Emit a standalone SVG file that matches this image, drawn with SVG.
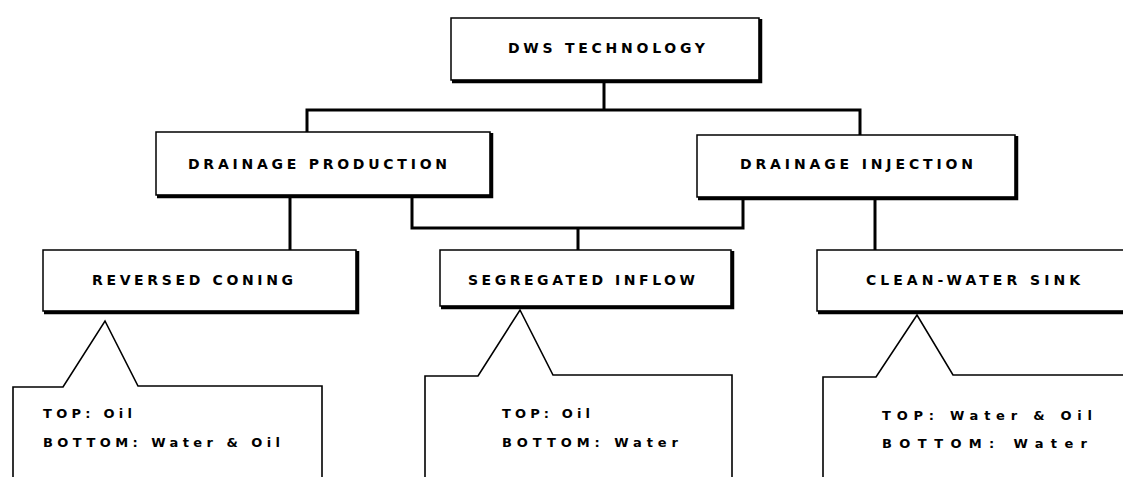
<svg xmlns="http://www.w3.org/2000/svg" width="1123" height="477" viewBox="0 0 1123 477">
<style>
.box{fill:#fff;stroke:#000;stroke-width:1.5}
.shadow{fill:none;stroke:#000;stroke-width:3.5;stroke-linejoin:miter}
.lbl{font-family:"DejaVu Sans","Liberation Sans",sans-serif;font-weight:bold;font-size:14px;fill:#000}
.sm{font-family:"DejaVu Sans","Liberation Sans",sans-serif;font-weight:bold;font-size:13px;fill:#000}
.conn{fill:none;stroke:#000;stroke-width:3;stroke-linejoin:miter;stroke-linecap:square}
.call{fill:#fff;stroke:#000;stroke-width:1.6;stroke-linejoin:miter}
</style>
<rect width="1123" height="477" fill="#fff"/>
<g id="connectors">
<path class="conn" d="M604,83 V110 M307,133 V110 H860 V135"/>
<path class="conn" d="M290,198 V250"/>
<path class="conn" d="M412,198 V228 H743 V200 M578,228 V250"/>
<path class="conn" d="M875,200 V250"/>
</g>
<g id="dws">
<rect class="box" x="451" y="18" width="308" height="62"/>
<path class="shadow" d="M760.5,19 V81.5 H452"/>
<text class="lbl" x="508" y="53" textLength="197" lengthAdjust="spacing">DWS TECHNOLOGY</text>
</g>
<g id="drainage-production">
<rect class="box" x="156" y="132" width="334" height="63"/>
<path class="shadow" d="M491.5,133 V196.5 H157"/>
<text class="lbl" x="188" y="169" textLength="259" lengthAdjust="spacing">DRAINAGE PRODUCTION</text>
</g>
<g id="drainage-injection">
<rect class="box" x="697" y="135" width="318" height="62"/>
<path class="shadow" d="M1016.5,136 V198.5 H698"/>
<text class="lbl" x="740" y="169" textLength="233" lengthAdjust="spacing">DRAINAGE INJECTION</text>
</g>
<g id="reversed-coning">
<rect class="box" x="43" y="250" width="313" height="61"/>
<path class="shadow" d="M357.5,251 V312.5 H44"/>
<text class="lbl" x="92" y="285" textLength="201" lengthAdjust="spacing">REVERSED CONING</text>
</g>
<g id="segregated-inflow">
<rect class="box" x="440" y="250" width="291" height="56"/>
<path class="shadow" d="M732.5,251 V307.5 H441"/>
<text class="lbl" x="468" y="285" textLength="227" lengthAdjust="spacing">SEGREGATED INFLOW</text>
</g>
<g id="clean-water-sink">
<rect class="box" x="817" y="250" width="310" height="61"/>
<path class="shadow" d="M1128,312.5 H818"/>
<text class="lbl" x="866" y="285" textLength="214" lengthAdjust="spacing">CLEAN-WATER SINK</text>
</g>
<g id="callout-1">
<path class="call" d="M13,478 V387 H63 L105,321 L138,386 H322 V478"/>
<text class="sm" x="43" y="418" textLength="89" lengthAdjust="spacing">TOP: Oil</text>
<text class="sm" x="43" y="447" textLength="237" lengthAdjust="spacing">BOTTOM: Water &amp; Oil</text>
</g>
<g id="callout-2">
<path class="call" d="M425,478 V376 H478 L520,310 L553,375 H732 V478"/>
<text class="sm" x="502" y="418" textLength="88" lengthAdjust="spacing">TOP: Oil</text>
<text class="sm" x="502" y="447" textLength="176" lengthAdjust="spacing">BOTTOM: Water</text>
</g>
<g id="callout-3">
<path class="call" d="M823,478 V377 H876 L917,315 L953,375 H1125"/>
<text class="sm" x="882" y="420" textLength="210" lengthAdjust="spacing">TOP: Water &amp; Oil</text>
<text class="sm" x="882" y="448" textLength="205" lengthAdjust="spacing">BOTTOM: Water</text>
</g>
</svg>
